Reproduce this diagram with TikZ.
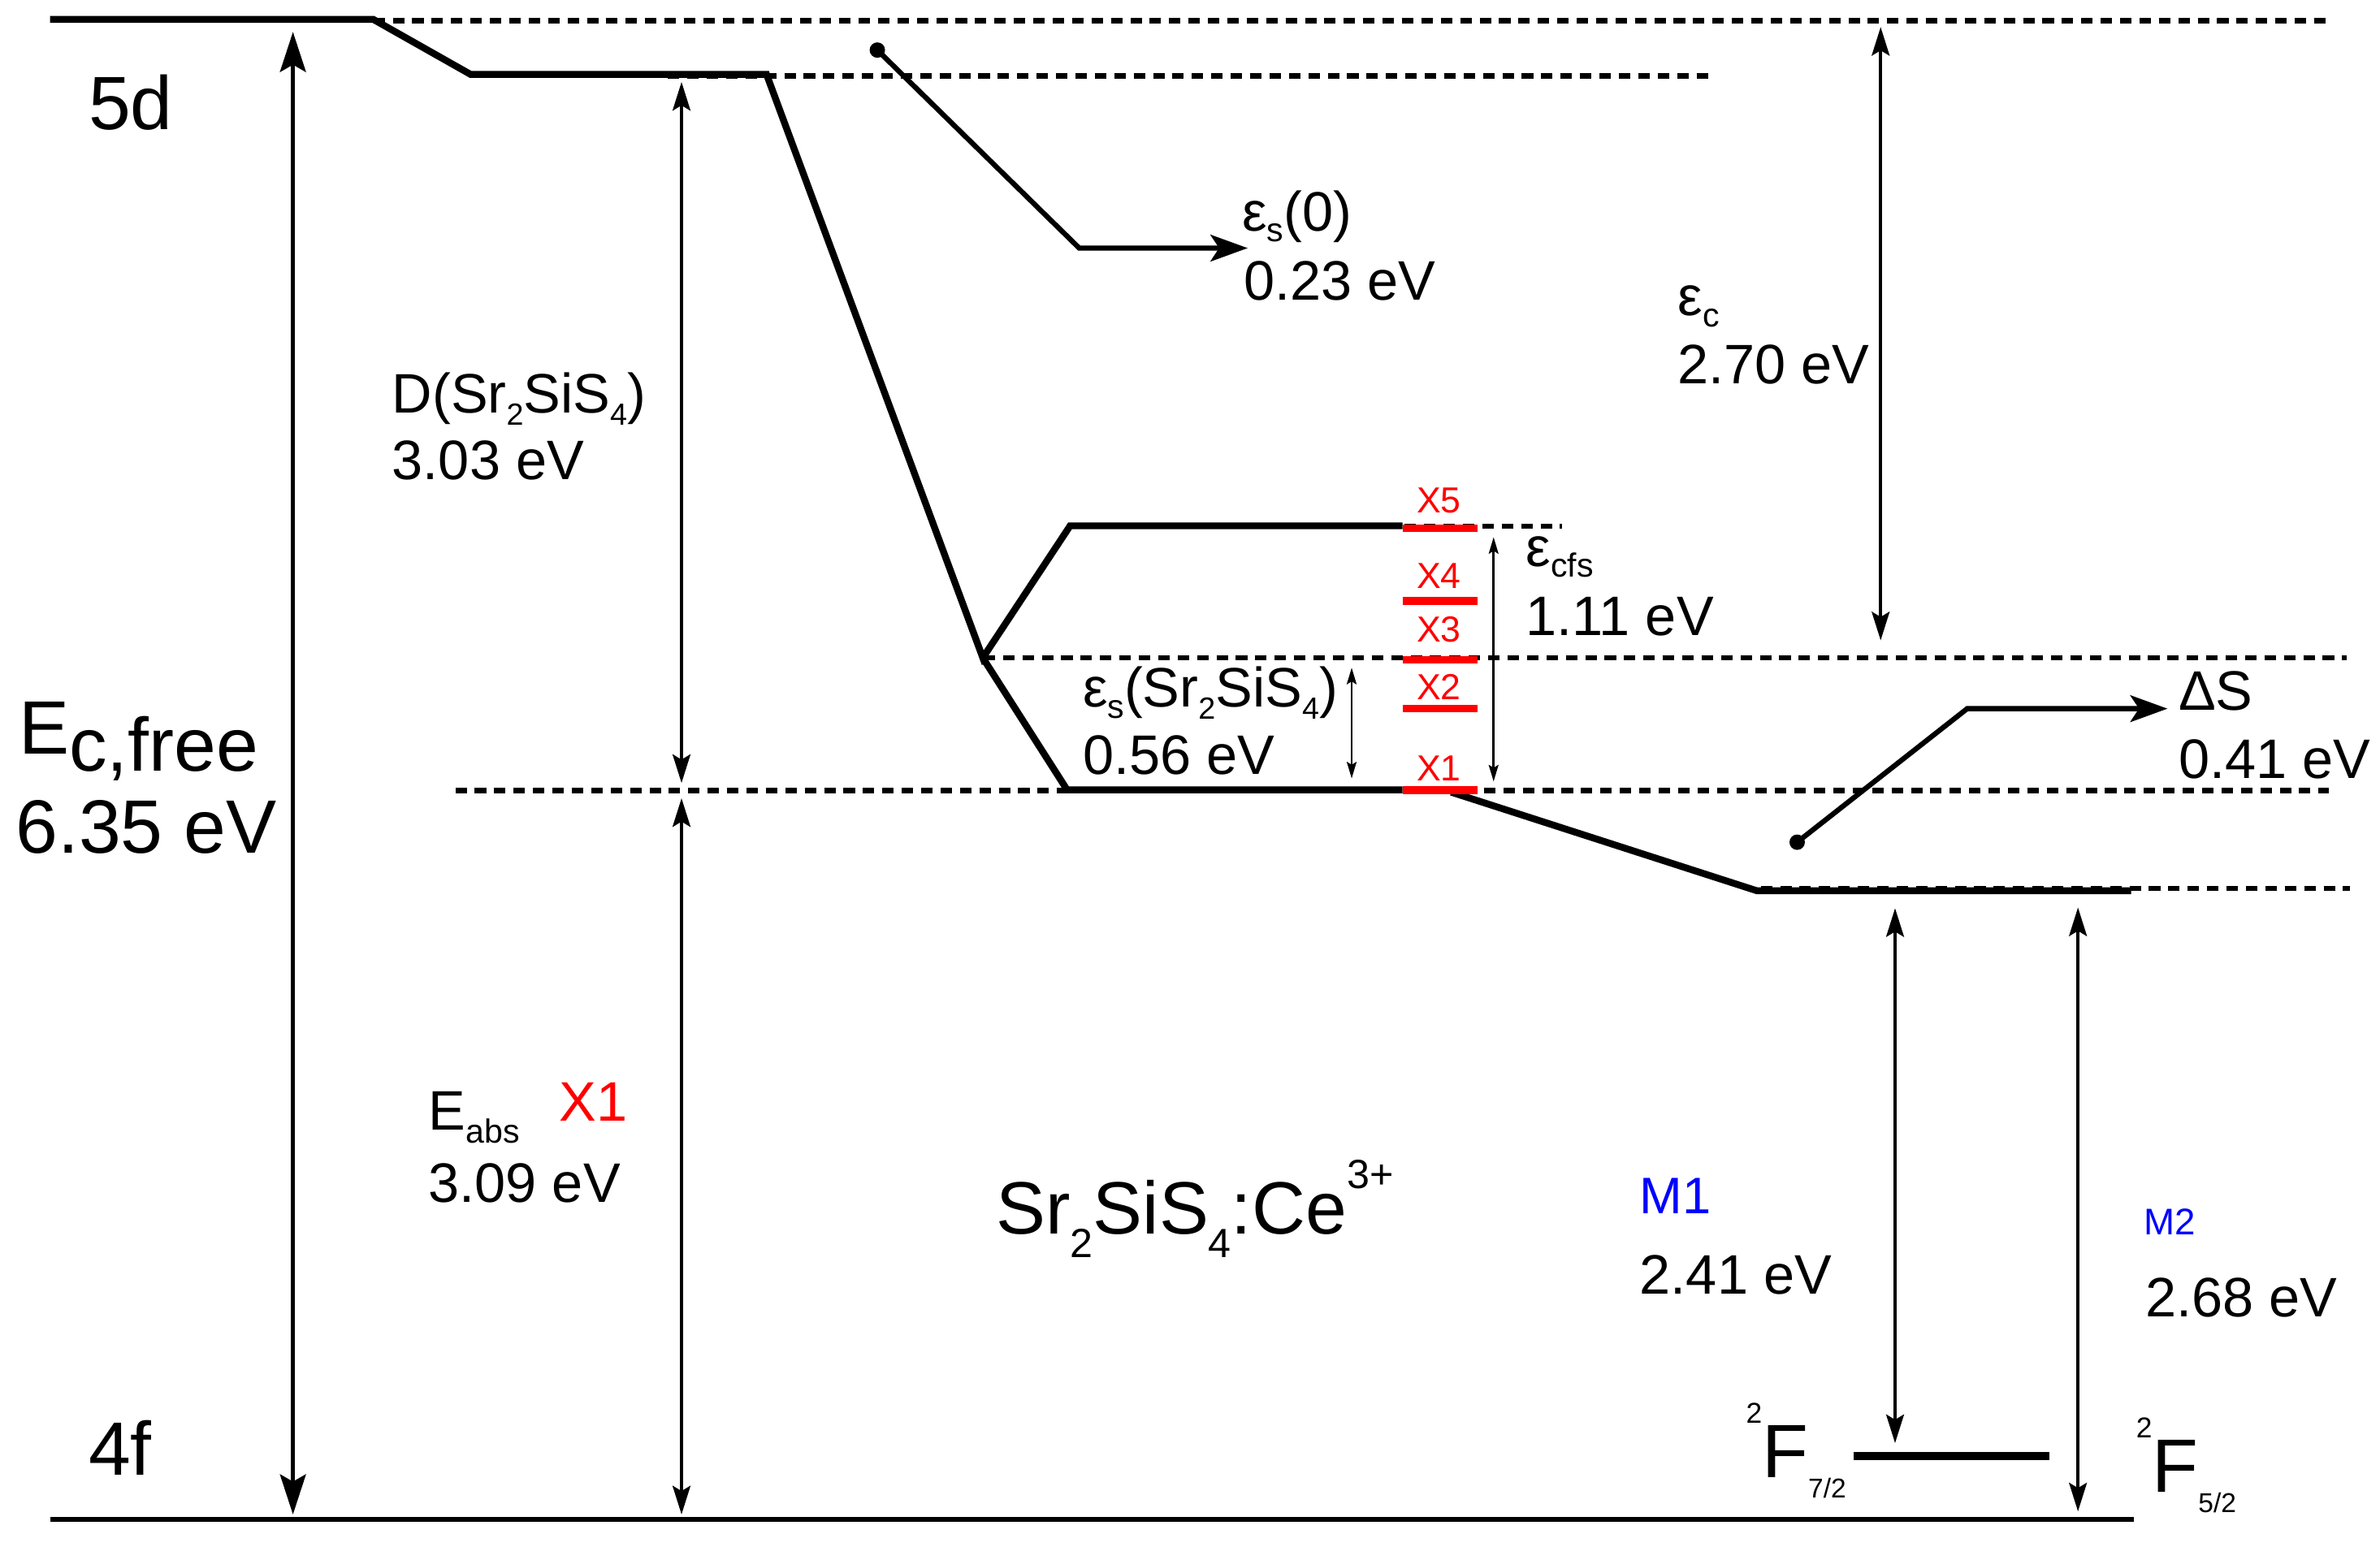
\documentclass[tikz,border=0pt]{standalone}
\usepackage{fontspec}
\setmainfont{Liberation Sans}
\usepackage{graphicx}
\usetikzlibrary{arrows.meta}
\newcommand{\lo}[2][0.22em]{\raisebox{-#1}{\scalebox{0.55}{#2}}}
\newcommand{\los}[2][0.2em]{\raisebox{-#1}{\scalebox{0.6}{#2}}}
\newcommand{\hi}[2][0.61em]{\raisebox{#1}{\scalebox{0.55}{#2}}}
\begin{document}
\begin{tikzpicture}[x=0.018686cm,y=-0.018686cm,
  lvl/.style={line width=2.4pt,line join=miter},
  gnd/.style={line width=1.7pt},
  dsh/.style={line width=1.9pt,dash pattern=on 4pt off 2.8pt},
  rbar/.style={draw=red,line width=2.6pt},
  bigarr/.style={line width=1.6pt,{Stealth[length=14pt,width=9pt,inset=2.5pt]}-{Stealth[length=14pt,width=9pt,inset=2.5pt]}},
  arr/.style={line width=1.25pt,{Stealth[length=10pt,width=6.2pt,inset=1.8pt]}-{Stealth[length=10pt,width=6.2pt,inset=1.8pt]}},
  sarr/.style={line width=0.75pt,{Stealth[length=5.8pt,width=3.4pt,inset=1pt]}-{Stealth[length=5.8pt,width=3.4pt,inset=1pt]}},
  ptr/.style={line width=1.8pt,line join=miter,-{Stealth[length=13pt,width=9.3pt,inset=3pt]}},
  lbl/.style={anchor=base west,inner sep=0pt,font=\fontsize{19.5}{22}\selectfont},
  big/.style={anchor=base west,inner sep=0pt,font=\fontsize{26.5}{30}\selectfont},
  xl/.style={anchor=base,inner sep=0pt,text=red,font=\fontsize{12.7}{15}\selectfont},
  dotc/.style={fill=black}
]
\useasboundingbox (0,0) rectangle (1568,1019);

% ---- dashed reference levels
\draw[dsh] (246,13.7) coordinate (t0) -- (1536,13.7) coordinate (t1);
\draw[dsh] (440,50) coordinate (u0) -- (1128,50) coordinate (u1);
\draw[dsh] (772,346.8) coordinate (v0) -- (1029,346.8) coordinate (v1);
\draw[dsh] (648,433.5) coordinate (w0) -- (1546,433.5) coordinate (w1);
\draw[dsh] (300,521) coordinate (x0) -- (1534,521) coordinate (x1);
\draw[dsh] (1160,585.5) coordinate (y0) -- (1548,585.5) coordinate (y1);

% ---- solid levels
\coordinate (A) at (33,12.8);
\coordinate (B) at (246,12.8);
\coordinate (C) at (310,49);
\coordinate (D) at (505,49);
\coordinate (K) at (647.5,433.5);
\coordinate (E5) at (705,346.5);
\coordinate (F5) at (924,346.5);
\coordinate (E1) at (703,520.5);
\coordinate (F1) at (924,520.5);
\coordinate (G) at (956,522);
\coordinate (H) at (1157.5,587);
\coordinate (I) at (1404,587);
\draw[lvl] (A) -- (B) -- (C) -- (D) -- (K) -- (E5) -- (F5);
\draw[lvl] (K) -- (E1) -- (F1);
\draw[lvl] (G) -- (H) -- (I);
\coordinate (g0) at (33,1001.5);
\coordinate (g1) at (1406,1001.5);
\draw[gnd] (g0) -- (g1);
\coordinate (f0) at (1221,959.5);
\coordinate (f1) at (1350,959.5);
\draw[line width=2.8pt] (f0) -- (f1);

% ---- red sublevels
\foreach \yy/\nm in {348/r5,396/r4,435/r3,467/r2,520.7/r1}{
  \draw[rbar] (924,\yy) coordinate (\nm a) -- (973.5,\yy) coordinate (\nm b);
}
\node[xl] (X5) at (948,338) {X5};
\node[xl] (X4) at (948,387.5) {X4};
\node[xl] (X3) at (948,423) {X3};
\node[xl] (X2) at (948,461) {X2};
\node[xl] (X1) at (948,514.5) {X1};

% ---- arrows
\coordinate (a1) at (193,21);   \coordinate (a2) at (193,998);
\draw[bigarr] (a1) -- (a2);
\coordinate (d1) at (449,54);   \coordinate (d2) at (449,516);
\draw[arr] (d1) -- (d2);
\coordinate (e1) at (449,526);  \coordinate (e2) at (449,998);
\draw[arr] (e1) -- (e2);
\coordinate (c1) at (1239,17.8); \coordinate (c2) at (1239,422);
\draw[arr] (c1) -- (c2);
\coordinate (s1) at (890.5,440); \coordinate (s2) at (890.5,513);
\draw[sarr] (s1) -- (s2);
\coordinate (p1) at (984,354);  \coordinate (p2) at (984,515);
\draw[sarr] (p1) -- (p2);
\coordinate (m1a) at (1248.5,598.5); \coordinate (m1b) at (1248.5,951);
\draw[arr] (m1a) -- (m1b);
\coordinate (m2a) at (1369,598); \coordinate (m2b) at (1369,996);
\draw[arr] (m2a) -- (m2b);

% ---- pointers
\coordinate (q0) at (578,33); \coordinate (q1) at (711,163.5); \coordinate (q2) at (822,163.5);
\fill[dotc] (q0) circle[radius=0.095cm];
\draw[ptr] (q0) -- (q1) -- (q2);
\coordinate (z0) at (1184,555); \coordinate (z1) at (1296,467); \coordinate (z2) at (1428,467);
\fill[dotc] (z0) circle[radius=0.095cm];
\draw[ptr] (z0) -- (z1) -- (z2);

% ---- texts
\node[big] (t5d) at (58,85.6) {5d};
\node[big] (t4f) at (58,972) {4f};
\node[big] (tEc) at (12,497) {E\raisebox{-6pt}{c,free}};
\node[big] (t635) at (10,562) {6.35 eV};
\node[lbl] (tD) at (258,272) {D(Sr\lo{2}SiS\lo{4})};
\node[lbl] (t303) at (258,316) {3.03 eV};
\node[lbl] (tes0) at (818,152) {ε\los{s}(0)};
\node[lbl] (t023) at (819,198) {0.23 eV};
\node[lbl] (tec) at (1105,208) {ε\los{c}};
\node[lbl] (t270) at (1105,253) {2.70 eV};
\node[lbl] (tcfs) at (1005,373) {ε\los{cfs}};
\node[lbl] (t111) at (1005,419) {1.11 eV};
\node[lbl] (tesS) at (713,466) {ε\los{s}(Sr\lo{2}SiS\lo{4})};
\node[lbl] (t056) at (713,510) {0.56 eV};
\node[lbl] (tdS) at (1435,468) {ΔS};
\node[lbl] (t041) at (1435,512.7) {0.41 eV};
\node[lbl] (tEa) at (282,744.5) {E\los[0.24em]{abs}};
\node[lbl,text=red] (tEaX) at (368,739) {X1};
\node[lbl] (t309) at (282,792.5) {3.09 eV};
\node[anchor=base west,inner sep=0pt,font=\fontsize{26}{30}\selectfont] (tSr) at (656,813) {Sr\lo[0.32em]{2}SiS\lo[0.32em]{4}:Ce\hi{3+}};
\node[anchor=base west,inner sep=0pt,text=blue,font=\fontsize{18}{20}\selectfont] (tM1) at (1080,800) {M1};
\node[lbl] (t241) at (1080,852.6) {2.41 eV};
\node[anchor=base west,inner sep=0pt,text=blue,font=\fontsize{13}{15}\selectfont] (tM2) at (1412,813.5) {M2};
\node[lbl] (t268) at (1413,868) {2.68 eV};
\node[big] (tF7) at (1150,973.5) {\raisebox{0.72em}{\scalebox{0.38}{2}}F\raisebox{-0.27em}{\scalebox{0.36}{7/2}}};
\node[big] (tF5) at (1407,983.5) {\raisebox{0.72em}{\scalebox{0.38}{2}}F\raisebox{-0.27em}{\scalebox{0.36}{5/2}}};
\end{tikzpicture}
\end{document}
